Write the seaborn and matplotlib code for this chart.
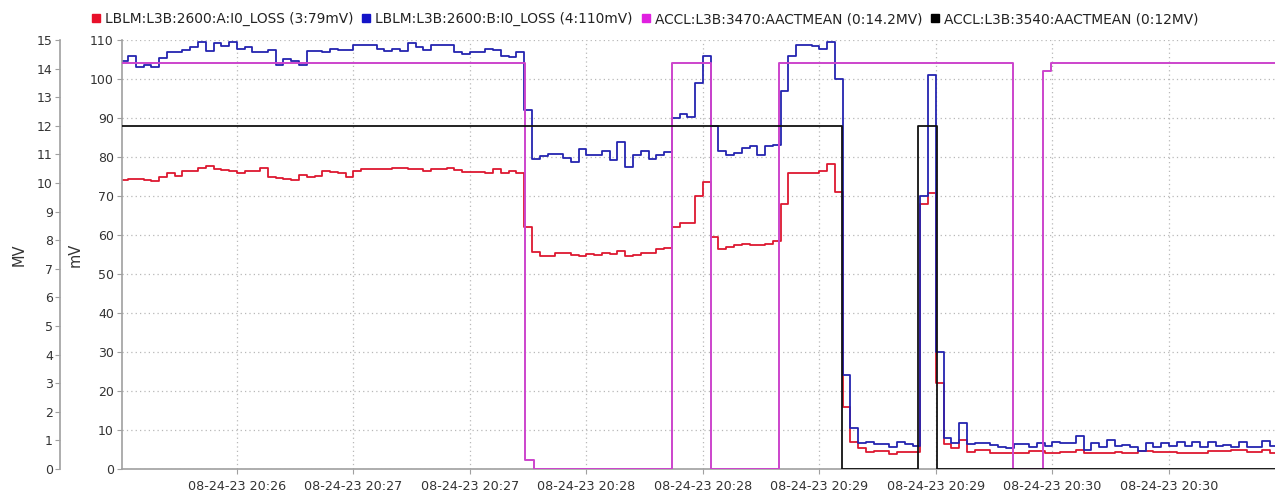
import pandas as pd
import numpy as np
import seaborn as sns
import matplotlib.pyplot as plt
import matplotlib.dates as mdates
from matplotlib.lines import Line2D

# time base: samples every 2 s from 20:26:00
start = pd.Timestamp('2023-08-24 20:26:00')
step_s = 2
end_s = 298
view_s = (0.3, 297.3)

# LBLM losses (mV), one value per 2 s
loss_a_mv = [
    74.0, 74.4, 74.4, 74.0, 73.9, 75.0, 75.8, 75.2, 76.4, 76.4,
    77.1, 77.7, 77.0, 76.6, 76.4, 76.0, 76.4, 76.4, 77.3, 74.8,
    74.5, 74.4, 74.0, 75.5, 75.0, 75.2, 76.5, 76.1, 75.8, 75.0,
    76.4, 77.0, 76.9, 77.0, 76.8, 77.3, 77.2, 76.8, 77.0, 76.5,
    77.0, 77.0, 77.1, 76.7, 76.2, 76.2, 76.2, 76.0, 77.0, 75.8,
    76.4, 76.0, 62.0, 55.6, 54.6, 54.6, 55.3, 55.3, 54.9, 54.7,
    55.1, 54.8, 55.4, 55.2, 55.9, 54.6, 54.9, 55.3, 55.4, 56.5,
    56.6, 62.0, 63.2, 63.0, 70.0, 73.5, 59.5, 56.5, 57.0, 57.4,
    57.6, 57.5, 57.4, 57.6, 58.5, 68.0, 76.0, 76.0, 76.0, 75.8,
    76.5, 78.2, 71.0, 16.0, 7.0, 5.3, 4.4, 4.5, 4.5, 3.8,
    4.4, 4.4, 4.4, 68.0, 70.7, 22.0, 6.5, 5.3, 7.5, 4.4,
    4.9, 4.9, 4.0, 4.0, 4.0, 4.2, 4.2, 4.7, 4.7, 4.0,
    4.0, 4.4, 4.4, 4.9, 4.2, 4.2, 4.2, 4.2, 4.4, 4.0,
    4.0, 4.7, 4.7, 4.4, 4.4, 4.4, 4.2, 4.2, 4.2, 4.2,
    4.7, 4.7, 4.7, 5.0, 5.0, 4.4, 4.4, 4.9, 4.2,
]
loss_b_mv = [
    104.7, 106.0, 103.0, 103.5, 103.1, 105.5, 107.0, 106.8, 107.5, 108.3,
    109.5, 107.2, 109.3, 108.5, 109.5, 107.6, 108.3, 107.0, 107.0, 107.4,
    103.5, 105.2, 104.5, 103.5, 107.3, 107.1, 107.0, 107.8, 107.5, 107.4,
    108.6, 108.6, 108.6, 107.8, 107.2, 107.7, 107.2, 109.2, 108.2, 107.5,
    108.6, 108.6, 108.6, 107.0, 106.5, 106.8, 107.0, 107.8, 107.5, 106.0,
    105.7, 106.8, 92.0, 79.5, 80.2, 80.8, 80.7, 79.7, 78.6, 82.0,
    80.6, 80.6, 81.6, 79.2, 83.9, 77.5, 80.5, 81.5, 79.6, 80.5,
    81.3, 90.0, 91.0, 90.3, 99.0, 106.0, 88.0, 81.5, 80.5, 81.0,
    82.3, 82.8, 80.5, 82.8, 83.0, 97.0, 105.8, 108.8, 108.8, 108.4,
    107.8, 109.6, 100.0, 24.0, 10.5, 6.6, 7.0, 6.3, 6.5, 5.6,
    6.8, 6.4, 6.0, 70.0, 101.0, 30.0, 8.0, 6.6, 11.7, 6.4,
    6.75, 6.6, 6.2, 5.7, 5.5, 6.4, 6.4, 5.7, 6.6, 5.9,
    7.0, 6.6, 6.6, 8.4, 4.9, 6.6, 5.7, 7.4, 5.9, 6.1,
    5.7, 4.7, 6.6, 5.7, 6.6, 5.9, 7.0, 5.9, 7.0, 5.7,
    7.0, 5.9, 6.2, 5.7, 7.0, 5.7, 5.7, 7.3, 5.9,
]

# ACCL gradients (MV): change points in seconds after start
accl_3470_t = [0, 104.3, 106.5, 142.0, 152.2, 169.7, 229.9, 237.5, 239.5]
accl_3470_v = [14.2, 0.3, 0.0, 14.2, 0.0, 14.2, 0.0, 13.9, 14.2]
accl_3540_t = [0, 185.7, 205.5, 210.2]
accl_3540_v = [12.0, 0.0, 12.0, 0.0]

legend_labels = [
    'LBLM:L3B:2600:A:I0_LOSS (3:79mV)',
    'LBLM:L3B:2600:B:I0_LOSS (4:110mV)',
    'ACCL:L3B:3470:AACTMEAN (0:14.2MV)',
    'ACCL:L3B:3540:AACTMEAN (0:12MV)',
]
line_colors = ['#dd1830', '#2424b0', '#cc44cc', '#111111']
swatch_colors = ['#e8102a', '#1414c8', '#e020e0', '#000000']

mv_ticks = list(range(0, 111, 10))
MV_ticks = list(range(0, 16))


def sampled_frame(vals):
    secs = np.append(np.arange(len(vals)) * step_s, end_s)
    vals = list(vals) + [vals[-1]]
    return pd.DataFrame({'time': start + pd.to_timedelta(secs, unit='s'), 'value': vals})


def change_frame(t, v):
    secs = list(t) + [end_s]
    vals = list(v) + [v[-1]]
    return pd.DataFrame({'time': start + pd.to_timedelta(secs, unit='s'), 'value': vals})


sns.set_theme(style='white')
plt.rcParams['font.family'] = ['DejaVu Sans']

W, H = 1275, 491
fig = plt.figure(figsize=(W / 100, H / 100), dpi=100)
left_px, top_px, bottom_px = 121.5, 40, 469
ax = fig.add_axes([left_px / W, 1 - bottom_px / H, (W - left_px) / W, (bottom_px - top_px) / H])
ax2 = ax.twinx()

sns.lineplot(data=sampled_frame(loss_a_mv), x='time', y='value', ax=ax, color=line_colors[0],
             drawstyle='steps-post', estimator=None, linewidth=1.3)
sns.lineplot(data=sampled_frame(loss_b_mv), x='time', y='value', ax=ax, color=line_colors[1],
             drawstyle='steps-post', estimator=None, linewidth=1.3)
sns.lineplot(data=change_frame(accl_3470_t, accl_3470_v), x='time', y='value', ax=ax2,
             color=line_colors[2], drawstyle='steps-post', estimator=None, linewidth=1.4)
sns.lineplot(data=change_frame(accl_3540_t, accl_3540_v), x='time', y='value', ax=ax2,
             color=line_colors[3], drawstyle='steps-post', estimator=None, linewidth=1.3)

ax.set_xlim(start + pd.Timedelta(seconds=view_s[0]), start + pd.Timedelta(seconds=view_s[1]))
ax.set_ylim(0, 110)
ax2.set_ylim(0, 15)
ax.set_yticks(mv_ticks)
ax2.set_yticks(MV_ticks)
ax.xaxis.set_major_locator(mdates.SecondLocator(bysecond=[0, 30]))
ax.xaxis.set_major_formatter(mdates.DateFormatter('%m-%d-%y %H:%M'))

ax.grid(True, color='#b8b8b8', linestyle=(0, (1, 2.5)), linewidth=0.9)
ax2.grid(False)

spine_col = '#a0a0a0'
for a in (ax, ax2):
    for s in ('top', 'right'):
        a.spines[s].set_visible(False)
ax.spines['left'].set_color(spine_col)
ax.spines['bottom'].set_color(spine_col)
ax.spines['left'].set_linewidth(1.2)
ax.spines['bottom'].set_linewidth(1.2)
ax2.spines['bottom'].set_visible(False)
ax2.yaxis.tick_left()
ax2.yaxis.set_label_position('left')
ax2.spines['left'].set_visible(True)
ax2.spines['left'].set_position(('outward', 44))
ax2.spines['left'].set_color(spine_col)
ax2.spines['left'].set_linewidth(1.2)

for a in (ax, ax2):
    a.tick_params(axis='y', direction='out', length=3.5, width=0.8, color=spine_col,
                  labelsize=9, labelcolor='#333333', pad=2, left=True)
ax.tick_params(axis='x', direction='out', length=3.5, width=0.8, color=spine_col,
               labelsize=9.2, labelcolor='#333333', pad=4.5, bottom=True)

ax.set_xlabel('')
ax.set_ylabel('mV', fontsize=10.5, color='#333333')
ax2.set_ylabel('MV', fontsize=10.5, color='#333333')
ax.yaxis.set_label_coords(-0.0335, 0.5)
ax2.yaxis.set_label_coords(-0.0825, 0.5)

handles = [Line2D([], [], marker='s', linestyle='none', color=c, markersize=5.5) for c in swatch_colors]
fig.legend(handles, legend_labels, loc='center', bbox_to_anchor=(0.5055, 0.961), ncol=4,
           frameon=False, fontsize=9.9, handletextpad=0.25, columnspacing=0.55, handlelength=0.8,
           labelcolor='#222222')

fig.savefig('out.png', dpi=100)
